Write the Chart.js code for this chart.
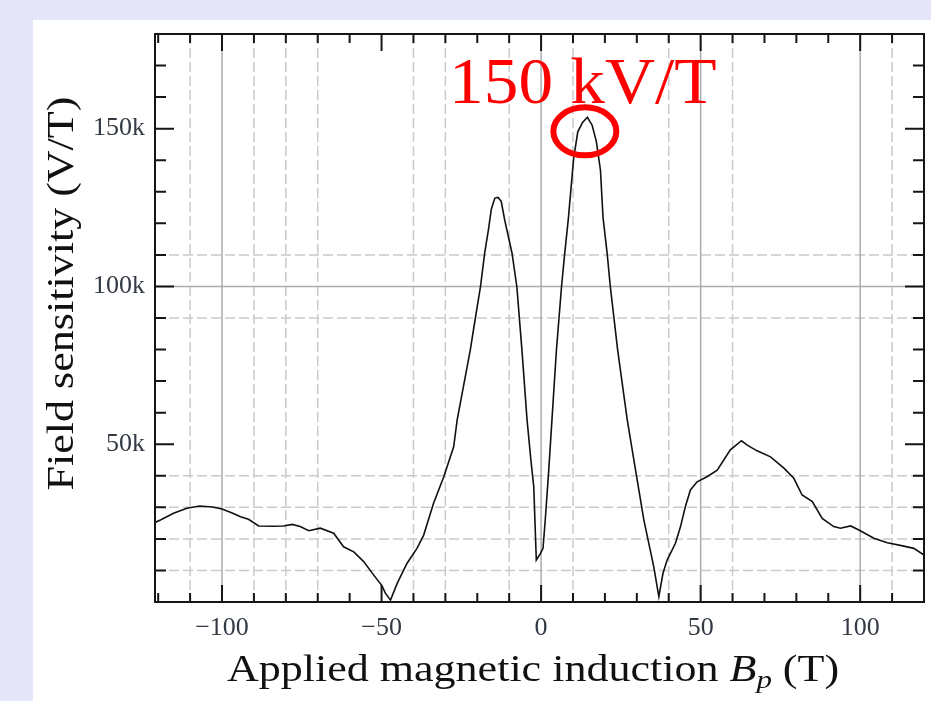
<!DOCTYPE html>
<html>
<head>
<meta charset="utf-8">
<script src="https://cdn.jsdelivr.net/npm/chart.js@4.4.1/dist/chart.umd.min.js"></script>
<style>
  html, body { margin: 0; padding: 0; background: #e6e6fa; }
  canvas { display: block; }
</style>
</head>
<body>
<canvas id="sensitivityChart" width="931" height="701"></canvas>
<script>
// applied induction B_p (T) and field sensitivity (kV/T)
const fieldB = [-121, -119.3, -115.2, -111, -107, -103, -100, -97, -94.2, -91.7,
  -88.5, -84, -80.7, -78, -75.5, -72.8, -69.2, -65, -61.9, -58.7,
  -55.6, -52.5, -49.9, -48.8, -47.2, -45.1, -42, -38.9, -36.8, -33.7,
  -30.5, -27.4, -26.3, -24.3, -22.2, -20.6, -19, -17.7, -16.5, -15.6,
  -14.5, -13.5, -12.5, -11.4, -10.3, -9.1, -7.6, -6, -4.4, -3.2,
  -2.3, -1.5, -0.2, 0.6, 1.3, 2.4, 3.4, 4.8, 6.4, 7.4,
  8.5, 10.2, 11.5, 13, 14.5, 16, 17.3, 18.6, 19.4, 20.7,
  21.7, 24, 25.6, 27, 29.6, 32.2, 35.3, 36.9, 38.2, 39.5,
  42.1, 43.7, 45.2, 46.8, 48.9, 52, 55.2, 59.3, 62.8, 64.6,
  67.7, 71.9, 76.1, 79.2, 81.8, 85, 88.1, 91.7, 93.8, 97,
  99.6, 104.3, 108.5, 113.7, 116.8, 120];
const sensitivityK = [25.2, 26.0, 28.1, 29.7, 30.4, 30.1, 29.5, 28.3, 27.0, 26.2,
  24.1, 24.0, 24.1, 24.6, 23.9, 22.6, 23.4, 21.8, 17.5, 15.9,
  12.8, 8.6, 5.2, 2.8, 0.6, 5.9, 12.3, 17.0, 21.2, 31.3,
  39.7, 49.2, 57.7, 68.5, 79.8, 90, 99.9, 110.5, 118, 124.5,
  128, 128.2, 127, 121, 116, 110.5, 99.9, 79.8, 57.7, 45,
  36.5, 13.3, 15.4, 17, 26, 41.8, 57.7, 79.8, 99.9, 110.5,
  121, 140.6, 149, 152, 153.6, 151.1, 146, 136.9, 122, 110.5,
  99.9, 79.8, 68, 57.7, 41.8, 26, 11.2, 1.7, 9.1, 13.3,
  18.6, 23.9, 30.2, 35.5, 38.1, 39.7, 41.8, 48.2, 51.1, 49.7,
  47.9, 46, 42.4, 39.2, 33.9, 31.8, 26.5, 23.9, 23.4, 24.1,
  22.8, 20.2, 18.8, 17.7, 17.0, 14.9];

// labelled ticks
const xTickValues = [-100, -50, 0, 50, 100];
const yTickValues = [50, 100, 150];

// grid lines (solid / dashed)
const xSolidGrid = [-100, 0, 50, 100];
const xDashedGrid = [-110, -90, -80, -70, -40, -30, -10, 10, 40, 60, 110];
const ySolidGrid = [100];
const yDashedGrid = [10, 20, 30, 40, 90, 110];

const serif = '"Liberation Serif", "Times New Roman", serif';
const titleStretch = 1.19;

function formatX(v) {
  return v < 0 ? '\u2212' + Math.abs(v) : String(v);
}

const framePlugin = {
  id: 'frame',
  beforeDraw(chart) {
    const { ctx, width, height } = chart;
    ctx.save();
    ctx.fillStyle = '#e6e6fa';
    ctx.fillRect(0, 0, width, height);
    ctx.fillStyle = '#ffffff';
    ctx.fillRect(33, 20, width - 33, height - 20);
    ctx.restore();
  },
  beforeDatasetsDraw(chart) {
    const { ctx, chartArea: a, scales: { x, y } } = chart;
    const vline = v => {
      const px = x.getPixelForValue(v);
      ctx.beginPath(); ctx.moveTo(px, a.top); ctx.lineTo(px, a.bottom); ctx.stroke();
    };
    const hline = v => {
      const py = y.getPixelForValue(v);
      ctx.beginPath(); ctx.moveTo(a.left, py); ctx.lineTo(a.right, py); ctx.stroke();
    };
    ctx.save();
    ctx.lineWidth = 1.5;
    ctx.setLineDash([10, 4]);
    ctx.strokeStyle = '#cacaca';
    xDashedGrid.forEach(vline);
    yDashedGrid.forEach(hline);
    ctx.setLineDash([]);
    ctx.strokeStyle = '#acacac';
    xSolidGrid.forEach(vline);
    ySolidGrid.forEach(hline);
    ctx.restore();
  },
  afterDatasetsDraw(chart) {
    const { ctx, chartArea: a, scales: { x, y } } = chart;
    ctx.save();
    ctx.strokeStyle = '#161616';
    ctx.lineWidth = 2;
    // inward tick marks on all four sides
    for (let v = -120; v <= 120; v += 10) {
      const px = x.getPixelForValue(v);
      const len = v % 50 === 0 ? 17 : 9;
      ctx.beginPath();
      ctx.moveTo(px, a.bottom); ctx.lineTo(px, a.bottom - len);
      ctx.moveTo(px, a.top); ctx.lineTo(px, a.top + len);
      ctx.stroke();
    }
    for (let v = 10; v < 180; v += 10) {
      const py = y.getPixelForValue(v);
      const len = v % 50 === 0 ? 19 : 11;
      ctx.beginPath();
      ctx.moveTo(a.left, py); ctx.lineTo(a.left + len, py);
      ctx.moveTo(a.right, py); ctx.lineTo(a.right - len, py);
      ctx.stroke();
    }
    ctx.strokeRect(a.left, a.top, a.right - a.left, a.bottom - a.top);

    // peak marker and its value
    const peak = Math.max(...sensitivityK);
    const i = sensitivityK.indexOf(peak);
    const px = x.getPixelForValue(fieldB[i]);
    const py = y.getPixelForValue(peak);
    ctx.strokeStyle = '#ff0000';
    ctx.lineWidth = 6;
    ctx.beginPath();
    ctx.ellipse(px - 2.5, py + 14, 31.5, 24, 0, 0, Math.PI * 2);
    ctx.stroke();
    ctx.fillStyle = '#ff0000';
    ctx.font = '66px ' + serif;
    ctx.textAlign = 'center';
    ctx.textBaseline = 'alphabetic';
    ctx.translate(px - 4.5, py - 14);
    ctx.scale(1.05, 1);
    ctx.fillText(Math.round(peak / 10) * 10 + ' kV/T', 0, 0);
    ctx.restore();
  },
  afterDraw(chart) {
    const { ctx } = chart;
    ctx.save();
    ctx.fillStyle = '#111';
    ctx.textBaseline = 'alphabetic';
    ctx.textAlign = 'left';

    // x-axis title with italic B and subscript p
    const parts = [
      { t: 'Applied magnetic induction ', f: '37px ' + serif, dy: 0 },
      { t: 'B', f: 'italic 37px ' + serif, dy: 0 },
      { t: 'p', f: 'italic 26px ' + serif, dy: 7 },
      { t: ' (T)', f: '37px ' + serif, dy: 0 }
    ];
    let total = 0;
    parts.forEach(p => { ctx.font = p.f; p.w = ctx.measureText(p.t).width; total += p.w; });
    ctx.save();
    ctx.translate(533, 681);
    ctx.scale(titleStretch, 1);
    let cx = -total / 2;
    parts.forEach(p => { ctx.font = p.f; ctx.fillText(p.t, cx, p.dy); cx += p.w; });
    ctx.restore();

    // y-axis title
    ctx.save();
    ctx.translate(73, 293.5);
    ctx.rotate(-Math.PI / 2);
    ctx.scale(titleStretch, 1);
    ctx.font = '37px ' + serif;
    ctx.textAlign = 'center';
    ctx.fillText('Field sensitivity (V/T)', 0, 0);
    ctx.restore();
    ctx.restore();
  }
};

const ctx = document.getElementById('sensitivityChart').getContext('2d');
const sensitivityChart = new Chart(ctx, {
  type: 'line',
  data: {
    datasets: [{
      label: 'Field sensitivity',
      data: fieldB.map((b, i) => ({ x: b, y: sensitivityK[i] })),
      borderColor: '#111111',
      borderWidth: 1.6,
      pointRadius: 0,
      tension: 0,
      fill: false
    }]
  },
  options: {
    responsive: false,
    animation: false,
    layout: { padding: { left: 0, top: 34, right: 7, bottom: 0 } },
    plugins: {
      legend: { display: false },
      tooltip: { enabled: false }
    },
    scales: {
      x: {
        type: 'linear',
        min: -121,
        max: 120,
        afterFit: s => { s.height = 99; },
        afterBuildTicks: s => { s.ticks = xTickValues.map(v => ({ value: v })); },
        grid: { display: false, drawTicks: false },
        border: { display: false },
        ticks: {
          autoSkip: false,
          maxRotation: 0,
          padding: 11,
          color: '#333a44',
          font: { family: serif, size: 26 },
          callback: v => formatX(v)
        }
      },
      y: {
        min: 0,
        max: 180,
        afterFit: s => { s.width = 155; },
        afterBuildTicks: s => { s.ticks = yTickValues.map(v => ({ value: v })); },
        grid: { display: false, drawTicks: false },
        border: { display: false },
        ticks: {
          autoSkip: false,
          padding: 10,
          color: '#333a44',
          font: { family: serif, size: 26 },
          callback: v => v + 'k'
        }
      }
    }
  },
  plugins: [framePlugin]
});
</script>
</body>
</html>
